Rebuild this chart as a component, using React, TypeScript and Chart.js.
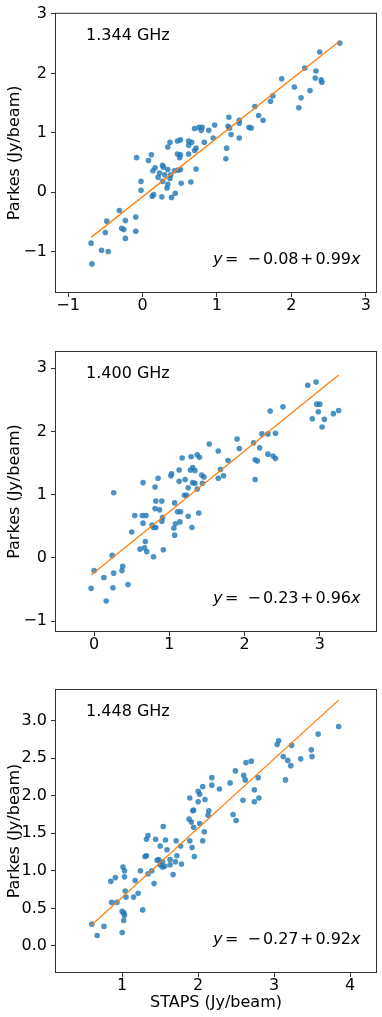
import React, { useEffect, useRef } from "react";
import { Chart, registerables } from "chart.js";

Chart.register(...registerables);

const FONT = "'DejaVu Sans', sans-serif";

// ---------- 1.344 GHz ----------
const STAPS_1344 = [
  2.65, 2.38, 2.18, 2.33, 2.32, 2.40, 2.41, 1.87, 2.04, 2.25, 2.13, 2.10, 1.75, 1.72, 1.51, 1.56,
  1.62, 1.16, 1.30, 1.30, 1.15, 1.17, 1.43, 1.46, 1.19, 1.30, 1.13, 1.12, 0.97, 0.89, 0.95, 0.83,
  0.76, 0.80, 0.79, 0.70, 0.51, 0.47, 0.62, 0.66, 0.62, 0.72, 0.70, 0.37, 0.34, 0.47, 0.51, 0.50,
  0.62, 0.12, -0.08, 0.08, 0.17, 0.14, 0.27, 0.28, 0.34, 0.23, 0.21, 0.30, 0.38, 0.43, 0.48, 0.51,
  0.37, 0.72, -0.02, 0.27, 0.34, 0.52, 0.65, 0.33, -0.02, 0.15, 0.13, 0.26, 0.39, 0.44, -0.31, -0.48,
  -0.23, -0.09, -0.28, -0.25, -0.50, -0.09, -0.23, -0.69, -0.55, -0.46, -0.68,
];
const PARKES_1344 = [
  2.51, 2.36, 2.09, 2.04, 1.92, 1.89, 1.85, 1.91, 1.77, 1.71, 1.59, 1.42, 1.62, 1.53, 1.44, 1.29,
  1.21, 1.26, 1.21, 1.16, 1.11, 1.08, 1.09, 1.08, 0.97, 0.91, 0.74, 0.56, 1.13, 1.04, 0.91, 0.84,
  1.09, 1.09, 1.04, 1.07, 0.88, 0.86, 0.86, 0.84, 0.79, 0.74, 0.70, 0.84, 0.76, 0.64, 0.63, 0.58,
  0.64, 0.63, 0.58, 0.53, 0.41, 0.36, 0.45, 0.42, 0.38, 0.32, 0.25, 0.29, 0.29, 0.36, 0.37, 0.38,
  0.23, 0.39, 0.18, 0.18, 0.13, 0.15, 0.17, 0.07, 0.03, -0.04, -0.07, -0.08, -0.09, -0.02, -0.31, -0.49,
  -0.48, -0.42, -0.61, -0.63, -0.68, -0.66, -0.78, -0.86, -0.98, -1.00, -1.21,
];
const FIT_1344 = [-0.08, 0.99]; // intercept, slope
const FIT_RANGE_1344 = [-0.69, 2.65];
const X_TICKS_1344 = [-1, 0, 1, 2, 3];
const Y_TICKS_1344 = [-1, 0, 1, 2, 3];

// ---------- 1.400 GHz ----------
const STAPS_1400 = [
  2.84, 2.95, 2.51, 2.34, 2.96, 3.00, 2.98, 3.25, 3.18, 2.90, 3.06, 3.03, 2.23, 2.31, 2.41, 1.90,
  2.12, 1.93, 2.20, 1.53, 1.65, 2.31, 2.38, 2.41, 2.14, 2.17, 1.78, 1.17, 1.29, 1.37, 1.40, 1.68,
  1.31, 1.28, 1.34, 1.13, 1.03, 1.02, 1.21, 1.43, 1.46, 1.72, 1.65, 2.14, 0.85, 0.65, 0.81, 1.13,
  1.31, 1.34, 1.44, 1.25, 1.37, 0.26, 1.20, 1.23, 0.82, 0.90, 1.07, 0.81, 0.87, 0.54, 0.64, 0.69,
  1.11, 1.15, 1.39, 1.25, 0.91, 0.90, 0.65, 1.08, 1.14, 0.77, 0.79, 0.82, 1.06, 1.30, 0.50, 1.07,
  0.68, 0.61, 0.67, 0.70, 0.92, 0.24, 0.79, 0.00, 0.38, 0.37, 0.26, 0.13, 0.45, 0.25, -0.04, 0.16,
];
const PARKES_1400 = [
  2.73, 2.78, 2.39, 2.32, 2.43, 2.43, 2.31, 2.33, 2.28, 2.20, 2.19, 2.07, 1.96, 1.96, 1.97, 1.88,
  1.82, 1.73, 1.74, 1.80, 1.69, 1.64, 1.61, 1.57, 1.55, 1.53, 1.54, 1.58, 1.60, 1.63, 1.59, 1.40,
  1.43, 1.39, 1.38, 1.39, 1.33, 1.30, 1.24, 1.31, 1.28, 1.30, 1.26, 1.24, 1.26, 1.19, 1.12, 1.21,
  1.19, 1.18, 1.18, 1.11, 1.09, 1.03, 0.99, 0.99, 0.90, 0.90, 0.87, 0.78, 0.76, 0.67, 0.67, 0.67,
  0.73, 0.73, 0.71, 0.66, 0.64, 0.58, 0.55, 0.54, 0.57, 0.52, 0.48, 0.48, 0.47, 0.48, 0.41, 0.36,
  0.26, 0.14, 0.16, 0.10, 0.13, 0.04, 0.02, -0.20, -0.13, -0.20, -0.24, -0.31, -0.42, -0.47, -0.48, -0.68,
];
const FIT_1400 = [-0.23, 0.96];
const FIT_RANGE_1400 = [-0.04, 3.25];
const X_TICKS_1400 = [0, 1, 2, 3];
const Y_TICKS_1400 = [-1, 0, 1, 2, 3];

// ---------- 1.448 GHz ----------
const STAPS_1448 = [
  3.85, 3.58, 3.06, 3.04, 3.23, 3.49, 3.50, 3.12, 3.18, 3.35, 3.22, 3.15, 2.63, 2.70, 2.49, 2.60,
  2.62, 2.79, 2.42, 2.74, 2.59, 2.74, 2.80, 2.18, 2.18, 2.06, 2.28, 2.00, 2.02, 1.89, 2.09, 2.00,
  1.94, 1.93, 2.14, 2.46, 2.50, 2.13, 1.88, 1.91, 2.02, 1.54, 1.94, 2.08, 1.34, 1.32, 1.44, 1.57,
  1.71, 1.77, 1.89, 2.06, 1.50, 1.59, 1.92, 1.30, 1.32, 1.72, 1.95, 1.46, 1.48, 1.53, 1.63, 1.70,
  1.78, 1.50, 1.53, 1.56, 1.63, 1.01, 1.03, 1.24, 1.39, 1.34, 1.67, 0.91, 0.85, 1.03, 1.17, 1.42,
  1.04, 1.21, 1.05, 1.15, 0.86, 0.93, 1.27, 1.00, 1.02, 1.03, 1.02, 0.60, 0.76, 0.67, 1.00,
];
const PARKES_1448 = [
  2.92, 2.82, 2.73, 2.68, 2.67, 2.61, 2.52, 2.52, 2.47, 2.49, 2.40, 2.21, 2.44, 2.46, 2.33, 2.27,
  2.21, 2.24, 2.17, 2.08, 1.94, 1.92, 1.97, 2.24, 2.14, 2.12, 2.09, 2.06, 2.02, 1.97, 1.95, 1.92,
  1.81, 1.80, 1.80, 1.75, 1.67, 1.74, 1.69, 1.65, 1.63, 1.59, 1.58, 1.52, 1.47, 1.42, 1.42, 1.41,
  1.40, 1.33, 1.40, 1.40, 1.33, 1.28, 1.31, 1.19, 1.20, 1.20, 1.19, 1.14, 1.15, 1.12, 1.15, 1.12,
  1.09, 1.08, 1.05, 1.06, 1.08, 1.05, 1.00, 1.00, 1.00, 0.96, 0.95, 0.91, 0.86, 0.92, 0.87, 0.83,
  0.73, 0.70, 0.65, 0.65, 0.58, 0.58, 0.48, 0.46, 0.44, 0.41, 0.34, 0.29, 0.26, 0.14, 0.18,
];
const FIT_1448 = [-0.27, 0.92];
const FIT_RANGE_1448 = [0.59, 3.85];
const X_TICKS_1448 = [1, 2, 3, 4];
const Y_TICKS_1448 = [0, 0.5, 1, 1.5, 2, 2.5, 3];

const Y_TITLE = "Parkes (Jy/beam)";
const X_TITLE = "STAPS (Jy/beam)";

const PANELS = [
  {
    label: "1.344 GHz", xs: STAPS_1344, ys: PARKES_1344, fit: FIT_1344, fitRange: FIT_RANGE_1344,
    xTicks: X_TICKS_1344, yTicks: Y_TICKS_1344, xMin: -1.175, xMax: 3.15, yMin: -1.7, yMax: 3.02,
    yDec: 0, top: 0, height: 330, padTop: 10, xAxisH: 37, xTitle: false,
  },
  {
    label: "1.400 GHz", xs: STAPS_1400, ys: PARKES_1400, fit: FIT_1400, fitRange: FIT_RANGE_1400,
    xTicks: X_TICKS_1400, yTicks: Y_TICKS_1400, xMin: -0.52, xMax: 3.76, yMin: -1.17, yMax: 3.27,
    yDec: 0, top: 330, height: 330, padTop: 21, xAxisH: 28, xTitle: false,
  },
  {
    label: "1.448 GHz", xs: STAPS_1448, ys: PARKES_1448, fit: FIT_1448, fitRange: FIT_RANGE_1448,
    xTicks: X_TICKS_1448, yTicks: Y_TICKS_1448, xMin: 0.115, xMax: 4.355, yMin: -0.36, yMax: 3.42,
    yDec: 1, top: 660, height: 357, padTop: 29, xAxisH: 44, xTitle: true,
  },
];

const fmt = (v: number, d: number) => (v < 0 ? "\u2212" + Math.abs(v).toFixed(d) : v.toFixed(d));

function drawEquation(ctx: CanvasRenderingContext2D, fit: number[], rightX: number, cy: number) {
  const [b, m] = fit;
  const segs = [
    { t: "y", it: true, gap: 2.5 },
    { t: "=", it: false, gap: 9 },
    ...(b < 0 ? [{ t: "\u2212", it: false, gap: 2 }] : []),
    { t: Math.abs(b).toFixed(2), it: false, gap: 1.5 },
    { t: "+", it: false, gap: 2 },
    { t: m.toFixed(2), it: false, gap: 0 },
    { t: "x", it: true, gap: 0 },
  ];
  const nf = `16px ${FONT}`;
  const itf = `italic 16px ${FONT}`;
  let total = 0;
  const widths = segs.map((s) => {
    ctx.font = s.it ? itf : nf;
    const w = ctx.measureText(s.t).width;
    total += w + s.gap;
    return w;
  });
  let x = rightX - total;
  ctx.fillStyle = "#000";
  ctx.textBaseline = "middle";
  ctx.textAlign = "left";
  segs.forEach((s, i) => {
    ctx.font = s.it ? itf : nf;
    ctx.fillText(s.t, x, cy);
    x += widths[i] + s.gap;
  });
}

function Panel({ cfg }: { cfg: any }) {
  const ref = useRef<HTMLCanvasElement | null>(null);
  useEffect(() => {
    if (!ref.current) return;
    const points = cfg.xs.map((x: number, i: number) => ({ x, y: cfg.ys[i] }));
    const [b, m] = cfg.fit;
    const line = cfg.fitRange.map((x: number) => ({ x, y: b + m * x }));
    const tickFont = { family: FONT, size: 16, lineHeight: 1.1 };
    const framePlugin = {
      id: "frame",
      afterDraw(chart: any) {
        const { ctx, chartArea: a } = chart;
        ctx.save();
        ctx.strokeStyle = "#333";
        ctx.lineWidth = 1;
        ctx.strokeRect(a.left + 0.5, a.top + 0.5, a.right - a.left - 1, a.bottom - a.top - 1);
        ctx.fillStyle = "#000";
        ctx.font = `16px ${FONT}`;
        ctx.textBaseline = "middle";
        ctx.textAlign = "left";
        ctx.fillText(cfg.label, a.left + 31, a.top + 23);
        drawEquation(ctx, cfg.fit, a.right - 16.5, a.bottom - 33.5);
        ctx.restore();
      },
    };
    const chart = new Chart(ref.current, {
      type: "scatter",
      data: {
        datasets: [
          {
            data: line,
            showLine: true,
            borderColor: "#ff7f0e",
            borderWidth: 1.3,
            pointRadius: 0,
            pointHoverRadius: 0,
            order: 0,
          },
          {
            data: points,
            backgroundColor: "rgba(31,119,180,0.8)",
            borderWidth: 0,
            pointRadius: 2.8,
            pointHoverRadius: 2.8,
            order: 1,
          },
        ],
      },
      options: {
        animation: false,
        responsive: false,
        maintainAspectRatio: false,
        devicePixelRatio: 1,
        layout: { padding: { left: 0, right: 5, top: cfg.padTop, bottom: 0 } },
        plugins: { legend: { display: false }, tooltip: { enabled: false } },
        events: [],
        scales: {
          x: {
            type: "linear",
            position: "bottom",
            min: cfg.xMin,
            max: cfg.xMax,
            afterBuildTicks: (s: any) => {
              s.ticks = cfg.xTicks.map((v: number) => ({ value: v }));
            },
            afterFit: (s: any) => {
              s.height = cfg.xAxisH;
            },
            ticks: {
              font: tickFont,
              color: "#000",
              padding: 0,
              maxRotation: 0,
              autoSkip: false,
              callback: (v: any) => fmt(Number(v), 0),
            },
            grid: { display: true, drawOnChartArea: false, drawTicks: true, tickLength: 4, color: "#333", lineWidth: 1 },
            border: { display: false },
            title: {
              display: cfg.xTitle,
              text: X_TITLE,
              color: "#000",
              font: { family: FONT, size: 16, lineHeight: 1.2 },
              padding: { top: 0, bottom: 4.7 },
            },
          },
          y: {
            type: "linear",
            position: "left",
            min: cfg.yMin,
            max: cfg.yMax,
            afterBuildTicks: (s: any) => {
              s.ticks = cfg.yTicks.map((v: number) => ({ value: v }));
            },
            afterFit: (s: any) => {
              s.width = 55;
            },
            ticks: {
              font: tickFont,
              color: "#000",
              padding: 4,
              autoSkip: false,
              callback: (v: any) => fmt(Number(v), cfg.yDec),
            },
            grid: { display: true, drawOnChartArea: false, drawTicks: true, tickLength: 4, color: "#333", lineWidth: 1 },
            border: { display: false },
            title: {
              display: true,
              text: Y_TITLE,
              color: "#000",
              font: { family: FONT, size: 16, lineHeight: 1.2 },
              padding: { top: 5.4, bottom: 0 },
            },
          },
        },
      },
      plugins: [framePlugin],
    } as any);
    return () => chart.destroy();
  }, [cfg]);
  return (
    <canvas
      ref={ref}
      width={382}
      height={cfg.height}
      style={{ position: "absolute", left: 0, top: cfg.top, width: 382, height: cfg.height, display: "block" }}
    />
  );
}

export default function App() {
  return (
    <div style={{ position: "absolute", left: 0, top: 0, width: 382, height: 1017, background: "#fff" }}>
      {PANELS.map((p, i) => (
        <Panel key={i} cfg={p} />
      ))}
    </div>
  );
}
